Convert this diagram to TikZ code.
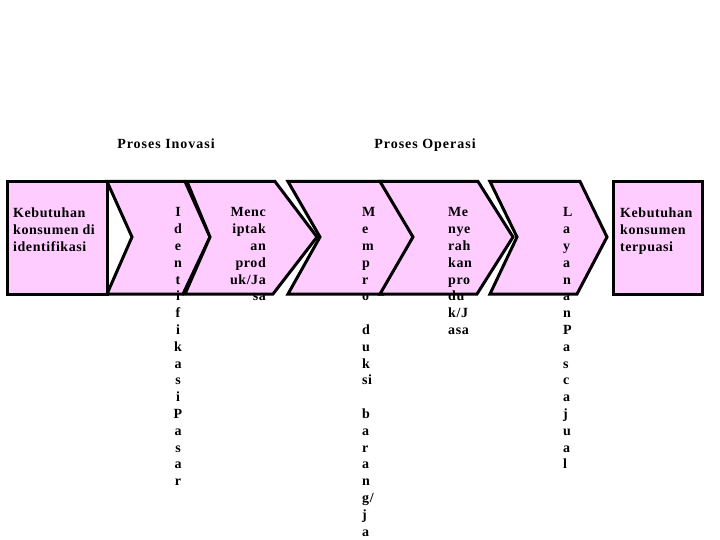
\documentclass[tikz,border=0pt]{standalone}
\usepackage{fontspec}
\setmainfont{Liberation Serif}[LetterSpace=4]
\definecolor{chevpink}{RGB}{255,204,255}
\begin{document}
\begin{tikzpicture}[x=1pt,y=-1pt,
  shp/.style={draw=black,line width=3pt,fill=chevpink,line join=miter},
  txt/.style={inner sep=0pt,font=\bfseries\fontsize{14}{16.8}\selectfont},
  ttl/.style={inner sep=0pt,font=\bfseries\fontsize{14}{16.8}\selectfont\addfontfeature{LetterSpace=7},anchor=base}]
\useasboundingbox (0,0) rectangle (720,540);
% shapes
\draw[shp] (7,181.5) rectangle (107,294);
\draw[shp] (107,181.5) -- (185,181.5) -- (210,237) -- (183,294) -- (107,294) -- (132,237) -- cycle;
\draw[shp] (187,181.5) -- (275,181.5) -- (317,237) -- (273,294) -- (185,294) -- (210,237) -- cycle;
\draw[shp] (288,181.5) -- (383,181.5) -- (413,237) -- (383,294) -- (288,294) -- (320,237) -- cycle;
\draw[shp] (380,181.5) -- (478,181.5) -- (513,237) -- (477,294) -- (380,294) -- (413,237) -- cycle;
\draw[shp] (490,181.5) -- (580,181.5) -- (607,237) -- (577,294) -- (490,294) -- (517,237) -- cycle;
\draw[shp] (613,181.5) rectangle (702,294);
% titles
\node[ttl] (t1) at (166,149) {Proses Inovasi};
\node[ttl] (t2) at (425,149) {Proses Operasi};
% texts
\node[txt,anchor=north west,align=left] (a) at (13,207.5) {Kebutuhan\\konsumen di\\identifikasi};
\node[txt,anchor=north,align=center] (b) at (178,207.5) {I\\d\\e\\n\\t\\i\\f\\i\\k\\a\\s\\i\\P\\a\\s\\a\\r};
\node[txt,anchor=north east,align=right] (c) at (266,207.5) {Menc\\iptak\\an\\prod\\uk/Ja\\sa};
\node[txt,anchor=north west,align=left] (d) at (362,207.5) {M\\e\\m\\p\\r\\o\\[16.8pt]d\\u\\k\\si\\[16.8pt]b\\a\\r\\a\\n\\g/\\j\\a};
\node[txt,anchor=north west,align=left] (e) at (448,207.5) {Me\\nye\\rah\\kan\\pro\\du\\k/J\\asa};
\node[txt,anchor=north west,align=left] (f) at (563,207.5) {L\\a\\y\\a\\n\\a\\n\\P\\a\\s\\c\\a\\j\\u\\a\\l};
\node[txt,anchor=north west,align=left] (g) at (620,207.5) {Kebutuhan\\konsumen\\terpuasi};
\end{tikzpicture}
\end{document}
